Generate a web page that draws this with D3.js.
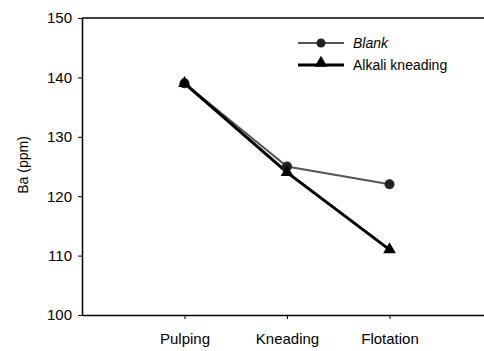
<!DOCTYPE html>
<html>
<head>
<meta charset="utf-8">
<script src="https://cdn.jsdelivr.net/npm/d3@7"></script>
<style>
  body { margin: 0; background: #fff; }
  text { font-family: "Liberation Sans", Arial, sans-serif; }
</style>
</head>
<body>
<div id="chart"></div>
<script>
var stages = ["Pulping", "Kneading", "Flotation"];
var blank = [139, 125, 122];
var alkali = [139, 124, 111];
var yTicks = [100, 110, 120, 130, 140, 150];
var seriesNames = ["Blank", "Alkali kneading"];

var width = 484, height = 351;
var margin = {top: 18, right: -8, bottom: 36, left: 82};
var innerW = width - margin.left - margin.right,
    innerH = height - margin.top - margin.bottom;

var svg = d3.select("#chart").append("svg")
    .attr("width", width)
    .attr("height", height);

var g = svg.append("g")
    .attr("transform", "translate(" + margin.left + "," + margin.top + ")");

var x = d3.scalePoint()
    .domain(stages)
    .range([0, innerW])
    .padding(1);

var y = d3.scaleLinear()
    .domain([100, 150])
    .range([innerH, 0]);

// top frame line
g.append("line")
    .attr("x1", 0).attr("x2", innerW)
    .attr("y1", 0).attr("y2", 0)
    .attr("stroke", "#000").attr("stroke-width", 1.5);

var yAxis = g.append("g")
    .call(d3.axisLeft(y).tickValues(yTicks).tickSize(4).tickSizeOuter(0));
yAxis.select(".domain").attr("stroke-width", 1.5);
yAxis.selectAll("text").attr("font-size", 15).attr("dx", "-3").attr("fill", "#000");

var xAxis = g.append("g")
    .attr("transform", "translate(0," + innerH + ")")
    .call(d3.axisBottom(x).tickSize(4).tickSizeOuter(0));
xAxis.select(".domain").attr("stroke-width", 1.5);
xAxis.selectAll("text").attr("font-size", 15).attr("dy", "1.45em").attr("fill", "#000");

g.append("text")
    .attr("transform", "rotate(-90)")
    .attr("x", -147)
    .attr("y", -54)
    .attr("text-anchor", "middle")
    .attr("font-size", 14)
    .attr("fill", "#000")
    .text("Ba (ppm)");

var line = d3.line()
    .x(function(d, i) { return x(stages[i]); })
    .y(function(d) { return y(d); });

// blank series
g.append("path")
    .datum(blank)
    .attr("fill", "none")
    .attr("stroke", "#555")
    .attr("stroke-width", 2)
    .attr("d", line);

// alkali kneading series
g.append("path")
    .datum(alkali)
    .attr("fill", "none")
    .attr("stroke", "#000")
    .attr("stroke-width", 3)
    .attr("d", line);

g.selectAll(".dot")
    .data(blank)
  .enter().append("circle")
    .attr("cx", function(d, i) { return x(stages[i]); })
    .attr("cy", function(d) { return y(d); })
    .attr("r", 5)
    .attr("fill", "#222");

var tri = d3.symbol().type(d3.symbolTriangle).size(70);
g.selectAll(".tri")
    .data(alkali)
  .enter().append("path")
    .attr("transform", function(d, i) { return "translate(" + x(stages[i]) + "," + y(d) + ")"; })
    .attr("d", tri)
    .attr("fill", "#000");

// legend
var legend = svg.append("g").attr("transform", "translate(298,43)");
legend.append("line").attr("x1", 0).attr("x2", 46).attr("y1", 0).attr("y2", 0)
    .attr("stroke", "#555").attr("stroke-width", 2);
legend.append("circle").attr("cx", 23).attr("cy", 0).attr("r", 4.5).attr("fill", "#222");
legend.append("text").attr("x", 55).attr("y", 5).attr("font-size", 14)
    .attr("font-style", "italic").text(seriesNames[0]);

legend.append("line").attr("x1", 0).attr("x2", 46).attr("y1", 22).attr("y2", 22)
    .attr("stroke", "#000").attr("stroke-width", 3);
legend.append("path").attr("transform", "translate(23,20)").attr("d", tri).attr("fill", "#000");
legend.append("text").attr("x", 55).attr("y", 27).attr("font-size", 14)
    .text(seriesNames[1]);
</script>
</body>
</html>
